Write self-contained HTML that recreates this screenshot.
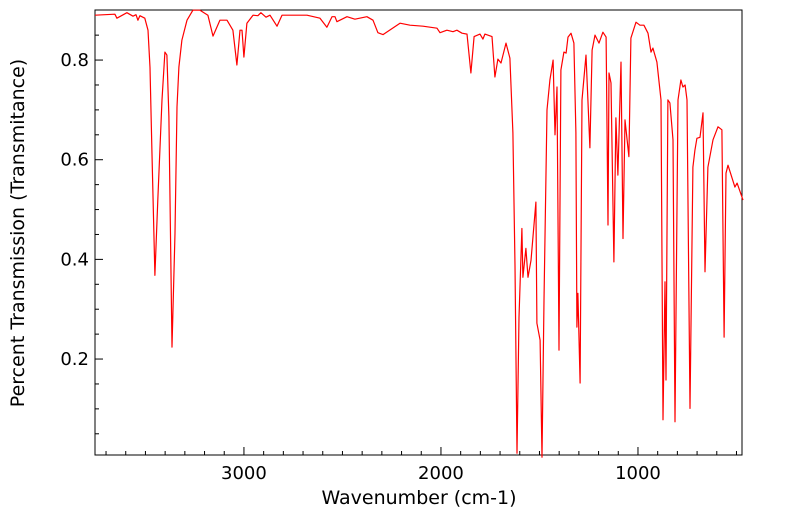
<!DOCTYPE html>
<html><head><meta charset="utf-8"><style>
html,body{margin:0;padding:0;background:#fff}
svg{display:block;font-family:"DejaVu Sans","Liberation Sans",sans-serif}
</style></head><body>
<svg id="chart" width="799" height="516" viewBox="0 0 799 516" xmlns="http://www.w3.org/2000/svg">
<rect x="95" y="10" width="647" height="445" fill="none" stroke="#000" stroke-width="1"/>
<g id="ticks"></g>
<path id="spec" fill="none" stroke="#ff0000" stroke-width="1.2" stroke-linejoin="round"/>
<text x="419" y="504" font-size="19" text-anchor="middle">Wavenumber (cm-1)</text>
<text transform="translate(24,233) rotate(-90)" font-size="19" text-anchor="middle">Percent Transmission (Transmitance)</text>
</svg>
<script>
const wavenumbers=[3756,3655,3645,3594,3563,3548,3538,3528,3503,3487,3477,3467,3452,3437,3416,3401,3391,3381,3365,3350,3340,3330,3315,3289,3259,3223,3183,3157,3122,3086,3056,3036,3020,3010,3000,2985,2954,2929,2914,2888,2868,2832,2807,2766,2680,2614,2579,2553,2538,2528,2477,2437,2376,2345,2320,2294,2208,2157,2091,2020,2005,1970,1939,1919,1893,1868,1848,1832,1802,1787,1777,1741,1726,1711,1695,1670,1650,1635,1624,1614,1604,1589,1584,1569,1558,1543,1518,1513,1497,1487,1477,1462,1447,1431,1421,1411,1401,1391,1376,1365,1355,1340,1325,1315,1310,1305,1294,1284,1264,1254,1244,1233,1218,1198,1178,1162,1152,1147,1137,1122,1112,1102,1086,1076,1066,1046,1036,1010,990,970,949,934,924,904,883,873,863,858,848,838,822,812,797,782,772,761,751,736,721,711,701,685,670,660,645,619,594,574,563,553,543,508,497,467];
const transmittance=[0.890,0.892,0.884,0.895,0.888,0.891,0.880,0.889,0.884,0.860,0.785,0.619,0.368,0.519,0.720,0.816,0.810,0.686,0.224,0.453,0.706,0.786,0.840,0.880,0.900,0.900,0.890,0.848,0.880,0.880,0.860,0.790,0.860,0.860,0.806,0.874,0.890,0.889,0.895,0.886,0.890,0.868,0.890,0.890,0.890,0.884,0.866,0.887,0.887,0.877,0.887,0.882,0.887,0.880,0.855,0.851,0.874,0.870,0.868,0.864,0.855,0.860,0.857,0.860,0.854,0.852,0.774,0.847,0.852,0.842,0.852,0.847,0.766,0.802,0.794,0.834,0.804,0.654,0.387,0.011,0.284,0.462,0.364,0.422,0.364,0.398,0.515,0.272,0.238,0.003,0.318,0.700,0.760,0.800,0.650,0.746,0.218,0.780,0.816,0.814,0.846,0.854,0.834,0.654,0.264,0.332,0.152,0.720,0.810,0.720,0.624,0.820,0.850,0.834,0.856,0.846,0.469,0.774,0.754,0.395,0.684,0.569,0.796,0.442,0.680,0.606,0.844,0.876,0.870,0.870,0.854,0.816,0.824,0.796,0.720,0.078,0.355,0.158,0.720,0.714,0.640,0.074,0.720,0.760,0.746,0.750,0.720,0.101,0.585,0.619,0.643,0.645,0.694,0.375,0.585,0.640,0.666,0.660,0.244,0.573,0.589,0.545,0.553,0.519];
const xTickLabels=[3000,2000,1000];
const yTickLabels=[0.2,0.4,0.6,0.8];
const X0=95,X1=742,WN0=3756,WN1=472,Y0=455,Y1=10;
function xs(w){return X0+(WN0-w)*(X1-X0)/(WN0-WN1);}
function ys(t){return 458.7-t*498.3;}
const ns="http://www.w3.org/2000/svg";
const svg=document.getElementById('chart');
const tg=document.getElementById('ticks');
let d='';
for(let i=0;i<wavenumbers.length;i++){d+=(i?'L':'M')+xs(wavenumbers[i]).toFixed(1)+','+ys(transmittance[i]).toFixed(1);}
document.getElementById('spec').setAttribute('d',d);
function line(x1,y1,x2,y2){const l=document.createElementNS(ns,'line');l.setAttribute('x1',x1);l.setAttribute('y1',y1);l.setAttribute('x2',x2);l.setAttribute('y2',y2);l.setAttribute('stroke','#000');l.setAttribute('stroke-width','1');


tg.appendChild(l);}
for(let w=3700;w>=500;w-=100){const x=xs(w);const major=w%1000===0;line(x,Y0,x,Y0-(major?8:4));}
for(let k=1;k<=17;k++){const t=k*0.05;const y=ys(t);if(y<Y1)continue;const major=k%4===0;line(X0,y,X0+(major?8:4),y);}
xTickLabels.forEach(w=>{const t=document.createElementNS(ns,'text');t.setAttribute('x',xs(w));t.setAttribute('y',479);t.setAttribute('font-size','18');t.setAttribute('text-anchor','middle');t.textContent=w;


svg.appendChild(t);});
yTickLabels.forEach(v=>{const t=document.createElementNS(ns,'text');t.setAttribute('x',89);t.setAttribute('y',ys(v)+6);t.setAttribute('font-size','18');t.setAttribute('text-anchor','end');t.textContent=v.toFixed(1);


svg.appendChild(t);});
</script>
</body></html>
